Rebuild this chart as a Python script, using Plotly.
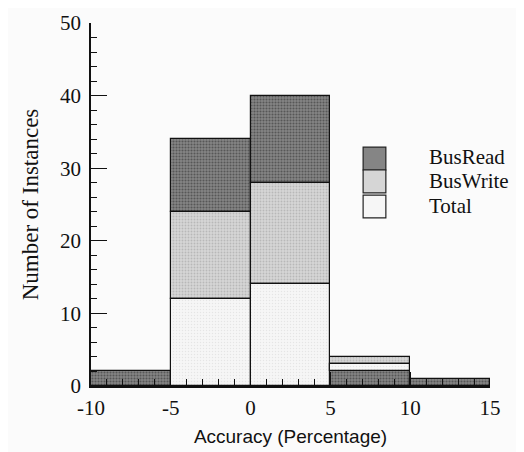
import plotly.graph_objects as go

# ---- data ----
bin_left = [-10, -5, 0, 5, 10]
bin_width = 5
bus_read = [2, 10, 12, 2, 1]
bus_write = [0, 12, 14, 1, 0]
total = [0, 12, 14, 1, 0]
series_names = ["BusRead", "BusWrite", "Total"]
# bottom-to-top stacking order per bin, as drawn in the original
stack_orders = [
    ["Total", "BusWrite", "BusRead"],
    ["Total", "BusWrite", "BusRead"],
    ["Total", "BusWrite", "BusRead"],
    ["BusRead", "Total", "BusWrite"],
    ["Total", "BusWrite", "BusRead"],
]
x_ticks = [-10, -5, 0, 5, 10, 15]
x_tick_labels = ["-10", "-5", "0", "5", "10", "15"]
y_ticks = [0, 10, 20, 30, 40, 50]
y_tick_labels = ["0", "10", "20", "30", "40", "50"]

values = {"BusRead": bus_read, "BusWrite": bus_write, "Total": total}
bases = {k: [0] * len(bin_left) for k in series_names}
for i, order in enumerate(stack_orders):
    cum = 0
    for name in order:
        bases[name][i] = cum
        cum += values[name][i]

centers = [b + bin_width / 2 for b in bin_left]

styles = {
    "BusRead": dict(bg="#858585", fg="#2a2a2a", sol=0.4),
    "BusWrite": dict(bg="#d6d6d6", fg="#9a9a9a", sol=0.3),
    "Total": dict(bg="#f6f6f6", fg="#d4d4d4", sol=0.2),
}

fig = go.Figure()
for name in series_names:
    v = [val if val else None for val in values[name]]
    st = styles[name]
    fig.add_trace(go.Bar(
        x=centers, y=v, base=bases[name], width=[bin_width] * len(centers),
        name=name, showlegend=False,
        marker=dict(
            color=st["bg"],
            line=dict(color="#111", width=1.2),
            pattern=dict(shape=".", fgcolor=st["fg"], bgcolor=st["bg"],
                         size=3, solidity=st["sol"]),
        ),
    ))

serif = "Liberation Serif, Times New Roman, serif"

# hand-drawn legend (boxes + labels) placed like the original
legend_boxes = {
    "BusRead": (0.682, 0.739, 0.595, 0.658),
    "BusWrite": (0.682, 0.739, 0.532, 0.595),
    "Total": (0.682, 0.739, 0.463, 0.526),
}
legend_text_y = {"BusRead": 0.631, "BusWrite": 0.565, "Total": 0.496}
shapes = []
annotations = []
for name in series_names:
    x0, x1, y0, y1 = legend_boxes[name]
    shapes.append(dict(type="rect", xref="paper", yref="paper",
                       x0=x0, x1=x1, y0=y0, y1=y1,
                       fillcolor=styles[name]["bg"],
                       line=dict(color="#222", width=1.2)))
    annotations.append(dict(text=name, xref="paper", yref="paper",
                            x=0.842, y=legend_text_y[name],
                            xanchor="left", yanchor="middle", showarrow=False,
                            font=dict(family=serif, size=21, color="#111")))

fig.update_layout(
    width=516, height=444,
    barmode="overlay",
    bargap=0,
    paper_bgcolor="#fbfbfb",
    plot_bgcolor="#fbfbfb",
    margin=dict(l=83, r=34, t=15, b=66),
    font=dict(family=serif, size=21, color="#111"),
    showlegend=False,
    shapes=shapes,
    annotations=annotations,
    xaxis=dict(
        range=[-10, 15],
        tickmode="array", tickvals=x_ticks, ticktext=x_tick_labels,
        ticks="inside", ticklen=14, tickwidth=1.2, tickcolor="#111",
        minor=dict(dtick=1, ticks="inside", ticklen=7, tickwidth=1, tickcolor="#111"),
        showline=True, linecolor="#111", linewidth=1.5,
        showgrid=False, zeroline=False,
        tickfont=dict(family=serif, size=21),
        ticklabelstandoff=2,
        automargin=False,
        title=dict(text="Accuracy (Percentage)",
                   font=dict(family="Liberation Sans, Arial, sans-serif", size=19),
                   standoff=11),
    ),
    yaxis=dict(
        range=[0, 50],
        tickmode="array", tickvals=y_ticks, ticktext=y_tick_labels,
        ticks="inside", ticklen=16, tickwidth=1.2, tickcolor="#111",
        minor=dict(dtick=2, ticks="inside", ticklen=6, tickwidth=1, tickcolor="#111"),
        showline=True, linecolor="#111", linewidth=1.5,
        showgrid=False, zeroline=False,
        tickfont=dict(family=serif, size=21),
        ticklabelstandoff=4,
        automargin=False,
        title=dict(text="Number of Instances", font=dict(family=serif, size=23),
                   standoff=15),
    ),
)

fig.write_html("out.html")
